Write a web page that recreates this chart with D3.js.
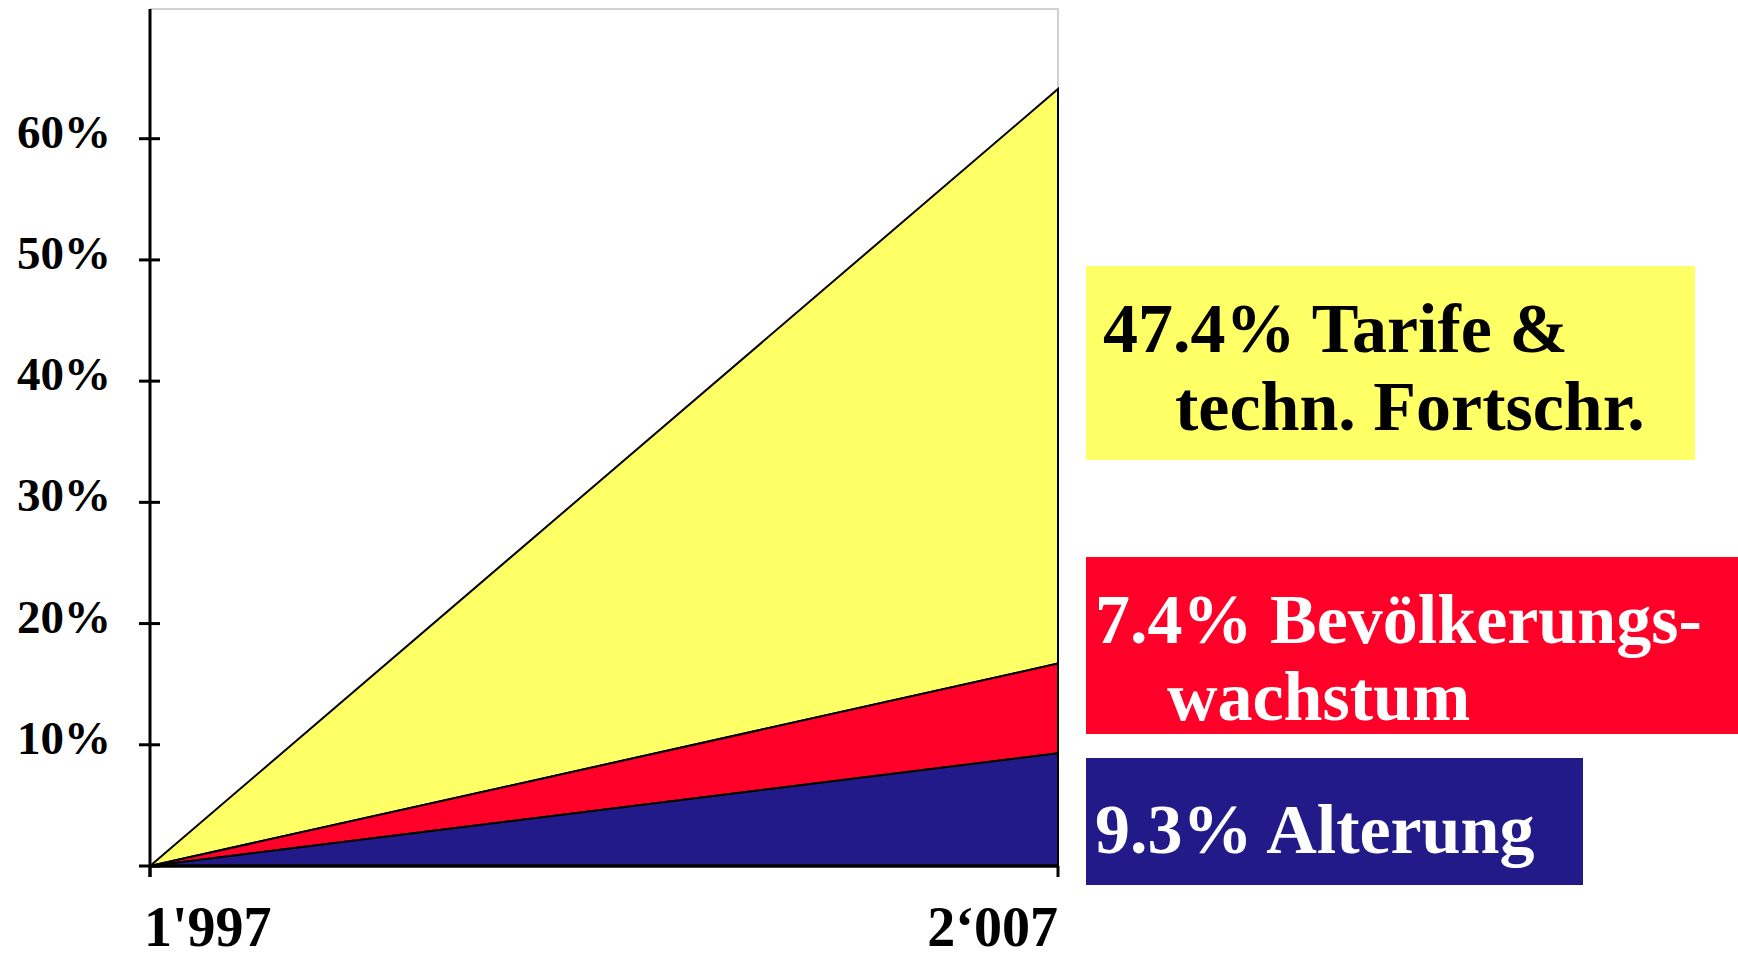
<!DOCTYPE html>
<meta charset="utf-8">
<script src="https://d3js.org/d3.v7.min.js"></script>
<style>
  body { margin: 0; background: #fff; }
  text { font-family: "Liberation Serif", "Times New Roman", serif; font-weight: bold; }
</style>
<body>
<svg id="chart" width="1738" height="959"></svg>
<script>
// data
var years = [1997, 2007];
var yearLabels = ["1'997", "2\u2018007"];
var alterung = [0, 9.3];
var bevoelkerung = [0, 7.4];
var tarife = [0, 47.4];
var seriesNames = ["Alterung", "Bevoelkerung", "Tarife"];
var yTicks = [10, 20, 30, 40, 50, 60];
var legendLines = [
  ["47.4% Tarife &", "techn. Fortschr."],
  ["7.4% Bev\u00f6lkerungs-", "wachstum"],
  ["9.3% Alterung"]
];

var colors = ["#231a8a", "#ff0029", "#ffff66"];
var textColors = ["#fff", "#fff", "#000"];

var svg = d3.select("#chart");

var x = d3.scaleLinear().domain([1997, 2007]).range([150, 1058]);
var y = d3.scaleLinear().domain([0, 70.7]).range([866, 9]);

var table = years.map(function (yr, i) {
  return { year: yr, Alterung: alterung[i], Bevoelkerung: bevoelkerung[i], Tarife: tarife[i] };
});
var stacked = d3.stack().keys(seriesNames)(table);

// plot frame (light grey)
svg.append("path")
  .attr("d", "M" + x(1997) + "," + y.range()[1] + "H" + x(2007) + "V" + y(0))
  .attr("fill", "none")
  .attr("stroke", "#d0d0d0")
  .attr("stroke-width", 2);

// areas
var area = d3.area()
  .x(function (d) { return x(d.data.year); })
  .y0(function (d) { return y(d[0]); })
  .y1(function (d) { return y(d[1]); });

svg.append("g")
  .selectAll("path")
  .data(stacked.slice().reverse())
  .enter()
  .append("path")
  .attr("d", area)
  .attr("fill", function (d) { return colors[d.index]; })
  .attr("stroke", "#000")
  .attr("stroke-width", 2)
  .attr("stroke-linejoin", "miter");

// y axis
var yAxis = svg.append("g").attr("transform", "translate(" + x(1997) + ",0)");
yAxis.append("line")
  .attr("x1", 0).attr("x2", 0)
  .attr("y1", y.range()[1]).attr("y2", y(0) + 11)
  .attr("stroke", "#000").attr("stroke-width", 3);
yAxis.selectAll("line.tick")
  .data([0].concat(yTicks))
  .enter()
  .append("line")
  .attr("class", "tick")
  .attr("x1", -11).attr("x2", 10)
  .attr("y1", function (d) { return y(d); })
  .attr("y2", function (d) { return y(d); })
  .attr("stroke", "#000").attr("stroke-width", 3);
yAxis.selectAll("text")
  .data(yTicks)
  .enter()
  .append("text")
  .attr("x", -39)
  .attr("y", function (d) { return y(d) + 9; })
  .attr("text-anchor", "end")
  .attr("font-size", 47)
  .text(function (d) { return d + "%"; });

// x axis
svg.append("line")
  .attr("x1", x(1997)).attr("x2", x(2007) + 1)
  .attr("y1", y(0)).attr("y2", y(0))
  .attr("stroke", "#000").attr("stroke-width", 3.5);
svg.selectAll("line.xtick")
  .data(years)
  .enter()
  .append("line")
  .attr("class", "xtick")
  .attr("x1", function (d) { return x(d); })
  .attr("x2", function (d) { return x(d); })
  .attr("y1", y(0)).attr("y2", y(0) + 11)
  .attr("stroke", "#000").attr("stroke-width", 3);
svg.selectAll("text.xlab")
  .data(years)
  .enter()
  .append("text")
  .attr("class", "xlab")
  .attr("x", function (d, i) { return i === 0 ? x(d) - 6 : x(d); })
  .attr("y", 946)
  .attr("text-anchor", function (d, i) { return i === 0 ? "start" : "end"; })
  .attr("font-size", 56)
  .text(function (d, i) { return yearLabels[i]; });

// legend boxes
var boxes = [
  { x: 1086, y: 266, w: 609, h: 194, tx: [1103, 1175], ty: [352, 430] },
  { x: 1086, y: 557, w: 652, h: 177, tx: [1095, 1167], ty: [643, 720] },
  { x: 1086, y: 758, w: 497, h: 127, tx: [1095], ty: [853] }
];
var order = [2, 1, 0];
boxes.forEach(function (b, i) {
  var s = order[i];
  var g = svg.append("g");
  g.append("rect")
    .attr("x", b.x).attr("y", b.y)
    .attr("width", b.w).attr("height", b.h)
    .attr("fill", colors[s]);
  legendLines[i].forEach(function (line, j) {
    g.append("text")
      .attr("x", b.tx[j]).attr("y", b.ty[j])
      .attr("font-size", 70)
      .attr("fill", textColors[s])
      .text(line);
  });
});
</script>
</body>
